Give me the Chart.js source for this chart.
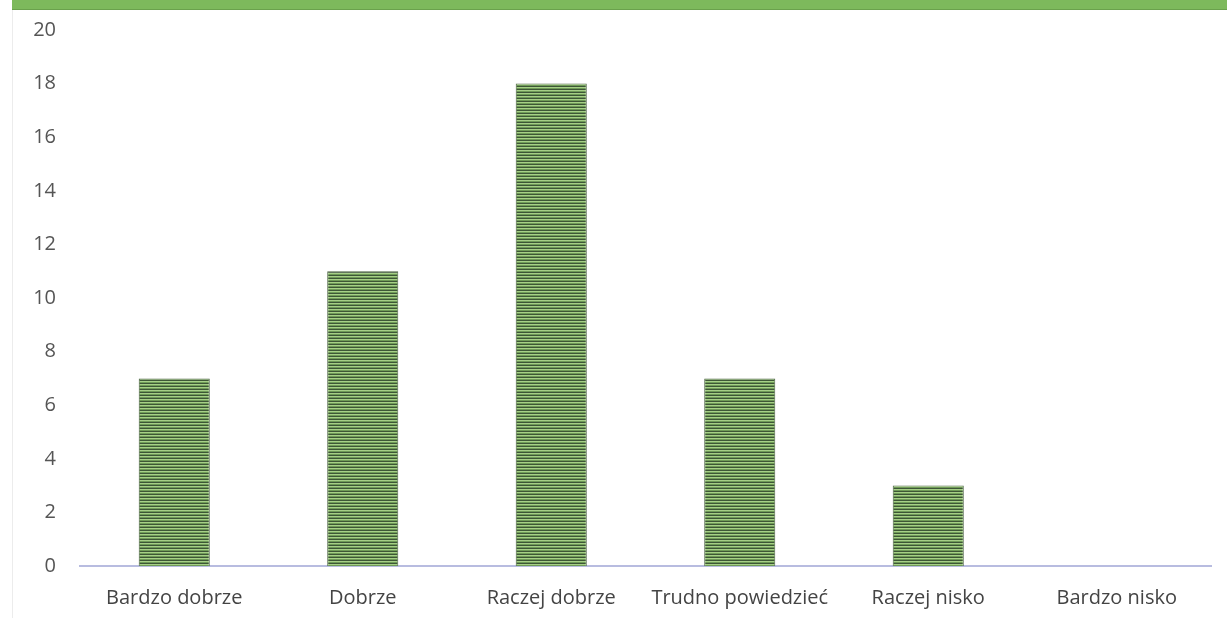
<!DOCTYPE html>
<html>
<head>
<meta charset="utf-8">
<script src="https://cdn.jsdelivr.net/npm/chart.js@4.4.1/dist/chart.umd.min.js"></script>
<style>
  html, body { margin: 0; padding: 0; background: #fff; }
  #wrap { position: relative; width: 1227px; height: 618px; overflow: hidden; }
  #band { position: absolute; left: 12px; top: 0; width: 1215px; height: 9px;
          background: #7db95c; border-bottom: 1px solid #6aa14c; }
  #edge { position: absolute; left: 12px; top: 0; width: 1px; height: 618px; background: #ececec; }
  canvas { position: absolute; left: 0; top: 0; }
</style>
</head>
<body>
<div id="wrap">
  <canvas id="chart" width="1227" height="618"></canvas>
  <div id="edge"></div>
  <div id="band"></div>
</div>
<script>
// Data
const CATEGORIES = ["Bardzo dobrze", "Dobrze", "Raczej dobrze", "Trudno powiedzieć", "Raczej nisko", "Bardzo nisko"];
const VALUES = [7, 11, 18, 7, 3, 0];
const Y_MAX = 20;
const Y_STEP = 2;

// striped green fill like the scanned bars
function makeStripes() {
  const c = document.createElement("canvas");
  c.width = 4;
  c.height = 3;
  const g = c.getContext("2d");
  g.fillStyle = "#a6cf86";
  g.fillRect(0, 0, 4, 1);
  g.fillStyle = "#6f9b57";
  g.fillRect(0, 1, 4, 1);
  g.fillStyle = "#3d5636";
  g.fillRect(0, 2, 4, 1);
  return g.createPattern(c, "repeat");
}

const ctx = document.getElementById("chart").getContext("2d");

new Chart(ctx, {
  type: "bar",
  data: {
    labels: CATEGORIES,
    datasets: [
      {
        data: VALUES,
        backgroundColor: makeStripes(),
        borderColor: "#4b6440",
        borderWidth: 1,
        categoryPercentage: 1,
        barPercentage: 0.377
      }
    ]
  },
  options: {
    responsive: false,
    animation: false,
    layout: { padding: { top: 30, right: 16, left: 0, bottom: 0 } },
    plugins: {
      legend: { display: false },
      tooltip: { enabled: false }
    },
    scales: {
      x: {
        grid: { display: false },
        border: { display: true, color: "#b8bce0", width: 2 },
        ticks: {
          color: "#444",
          padding: 12,
          font: { family: "Open Sans", size: 20 }
        },
        afterFit: (scale) => {
          scale.height = 52;
          scale.paddingLeft = 0;
          scale.paddingRight = 0;
        }
      },
      y: {
        min: 0,
        max: Y_MAX,
        grid: { display: false, drawTicks: false },
        border: { display: false },
        ticks: {
          stepSize: Y_STEP,
          color: "#555",
          padding: 24,
          font: { family: "Open Sans", size: 20 }
        },
        afterFit: (scale) => {
          scale.width = 80;
          scale.paddingTop = 0;
          scale.paddingBottom = 0;
        }
      }
    }
  }
});
</script>
</body>
</html>
